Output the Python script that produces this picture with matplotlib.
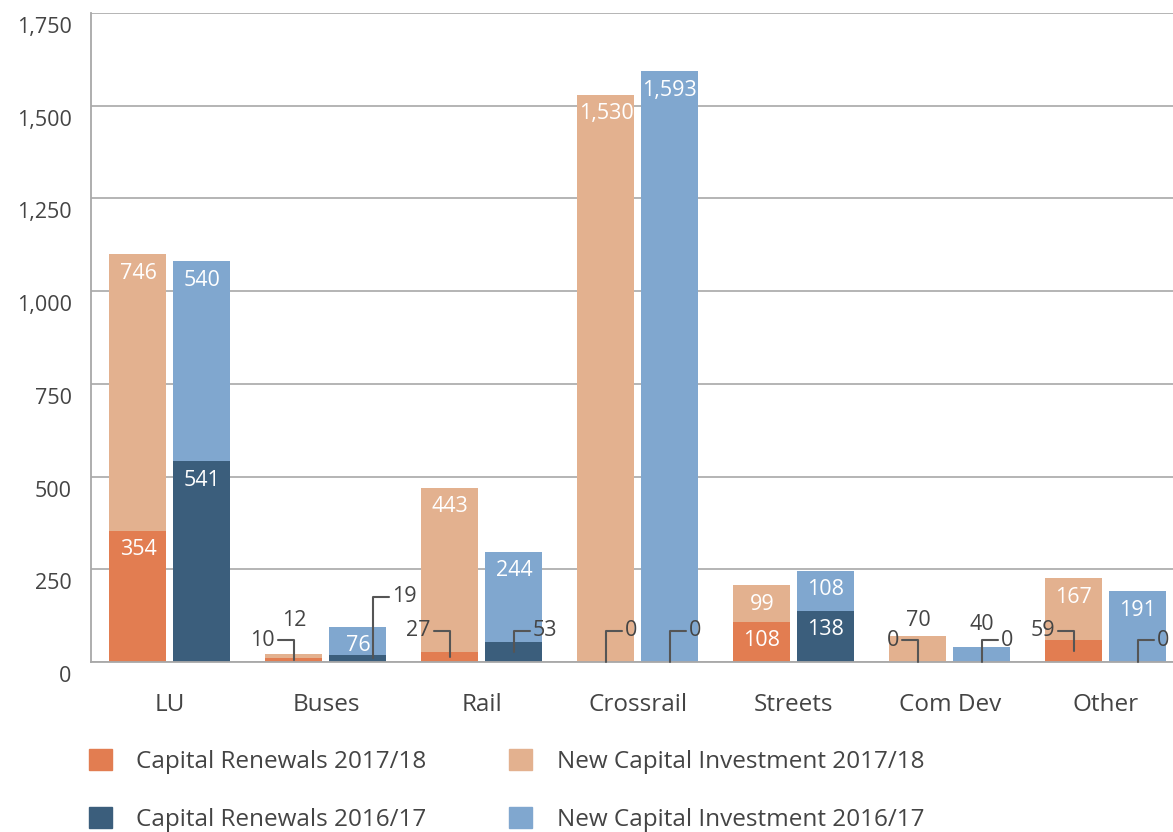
import numpy as np
import matplotlib
matplotlib.use("Agg")
import matplotlib.pyplot as plt
from matplotlib.patches import Patch
from matplotlib.transforms import ScaledTranslation

plt.rcParams['font.family'] = ['Open Sans', 'DejaVu Sans']

# Data (GBP m)
categories = ["LU", "Buses", "Rail", "Crossrail", "Streets", "Com Dev", "Other"]
renewals_1718 = [354, 10, 27, 0, 108, 0, 59]
new_1718 = [746, 12, 443, 1530, 99, 70, 167]
renewals_1617 = [541, 19, 53, 0, 138, 0, 0]
new_1617 = [540, 76, 244, 1593, 108, 40, 191]
yticks = [0, 250, 500, 750, 1000, 1250, 1500, 1750]

# Colours
c_ren18 = "#E27D51"
c_new18 = "#E3B18F"
c_ren17 = "#3B5E7C"
c_new17 = "#80A7CF"
txt = "#444444"
grid_c = "#A8A8A8"

W, H = 1173, 832
fig = plt.figure(figsize=(W / 100, H / 100), dpi=100)
ax = fig.add_axes([91 / W, 170 / H, 1082 / W, 649 / H])

x = np.arange(len(categories))
bw = 0.365
off = 0.205
xl = x - off
xr = x + off

ax.bar(xl, renewals_1718, bw, color=c_ren18, zorder=2)
ax.bar(xl, new_1718, bw, bottom=renewals_1718, color=c_new18, zorder=2)
ax.bar(xr, renewals_1617, bw, color=c_ren17, zorder=2)
ax.bar(xr, new_1617, bw, bottom=renewals_1617, color=c_new17, zorder=2)

ax.set_xlim(-0.506, 6.43)
ax.set_ylim(0, 1750)
ax.set_yticks(yticks)
ax.set_yticklabels([f"{v:,}" for v in yticks])
ax.set_xticks(x)
ax.set_xticklabels(categories)
ax.tick_params(length=0, colors=txt)
ax.tick_params(axis='y', pad=14, labelsize=15.5)
ax.tick_params(axis='x', pad=22, labelsize=17.5)
for lab in ax.get_yticklabels():
    lab.set_transform(lab.get_transform() + ScaledTranslation(0, -0.12, fig.dpi_scale_trans))

ax.grid(axis='y', color=grid_c, lw=1.2, zorder=0)
for s in ['top', 'right']:
    ax.spines[s].set_visible(False)
for s in ['left', 'bottom']:
    ax.spines[s].set_color(grid_c)
    ax.spines[s].set_linewidth(1.3)

px = 1750 / 649  # data units per pixel (y)
pxx = 1 / 156    # data units per pixel (x)

# labels that sit outside the bars: (series, category) -> (mode, label height px, line dx px)
outside = {
    ("r18", 1): ("left", 22, 0),
    ("n18", 1): ("above", 42, 0),
    ("r17", 1): ("right", 65, 15),
    ("r18", 2): ("left", 31, 0),
    ("r17", 2): ("right", 31, 0),
    ("r18", 3): ("right", 31, 0),
    ("r17", 3): ("right", 31, 0),
    ("r18", 5): ("left", 22, 0),
    ("n18", 5): ("above", 42, 0),
    ("r17", 5): ("right", 22, 0),
    ("n17", 5): ("above", 37, 0),
    ("r18", 6): ("left", 31, 0),
    ("r17", 6): ("right", 22, 0),
}

series = [
    ("r18", xl, renewals_1718, [0] * 7),
    ("n18", xl, new_1718, renewals_1718),
    ("r17", xr, renewals_1617, [0] * 7),
    ("n17", xr, new_1617, renewals_1617),
]

fs = 15.5
for key, xs, vals, bots in series:
    for i, (xc, v, b) in enumerate(zip(xs, vals, bots)):
        spec = outside.get((key, i))
        if spec is None:
            top = b + v
            ax.text(xc, top - 19 * px, f"{v:,}", ha='center', va='center',
                    color='white', fontsize=fs, zorder=3)
            continue
        mode, hpx, dx = spec
        if mode == "above":
            ax.text(xc, hpx * px, f"{v:,}", ha='center', va='center',
                    color=txt, fontsize=fs, zorder=3)
            continue
        xline = xc + dx * pxx
        ymid = b + v / 2
        if mode == "left":
            xt, ha, rel = xline - 19 * pxx, 'right', (1, 0.5)
        else:
            xt, ha, rel = xline + 19 * pxx, 'left', (0, 0.5)
        ax.annotate(f"{v:,}", xy=(xline, ymid), xytext=(xt, hpx * px),
                    ha=ha, va='center', color=txt, fontsize=fs, zorder=3,
                    arrowprops=dict(arrowstyle='-', color='#555555', lw=1.5,
                                    connectionstyle='angle,angleA=0,angleB=90,rad=0',
                                    patchA=None, shrinkA=2, shrinkB=0, relpos=rel))

handles = [Patch(color=c_ren18), Patch(color=c_ren17),
           Patch(color=c_new18), Patch(color=c_new17)]
labels = ["Capital Renewals 2017/18", "Capital Renewals 2016/17",
          "New Capital Investment 2017/18", "New Capital Investment 2016/17"]
fig.legend(handles, labels, ncol=2, loc='upper left',
           bbox_to_anchor=(89 / W, 1 - 749 / H), frameon=False,
           fontsize=17.5, labelcolor=txt, handlelength=0.95, handleheight=0.95,
           handletextpad=1.0, columnspacing=3.4, labelspacing=1.38,
           borderpad=0, borderaxespad=0)

fig.savefig("out.png", dpi=100)
